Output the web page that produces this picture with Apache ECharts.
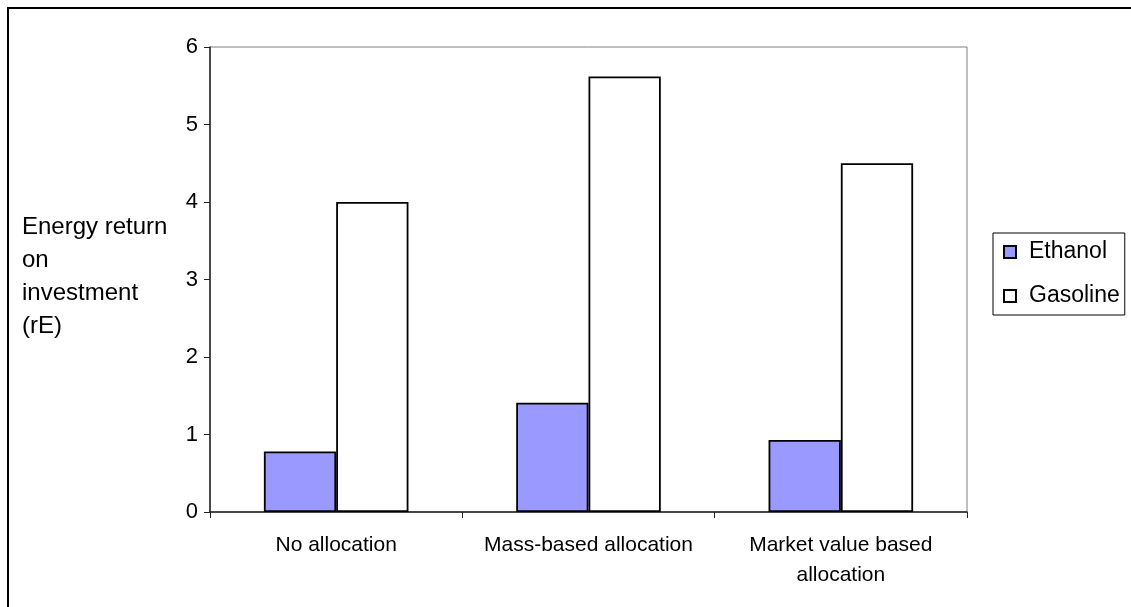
<!DOCTYPE html>
<html>
<head>
<meta charset="utf-8">
<script src="https://cdn.jsdelivr.net/npm/echarts@6/dist/echarts.min.js"></script>
<style>
html,body{margin:0;padding:0;background:#fff;}
#chart{width:1131px;height:607px;}
</style>
</head>
<body>
<div id="chart"></div>
<script>
var categories = ['No allocation', 'Mass-based allocation', 'Market value based\nallocation'];
var ethanol = [0.78, 1.41, 0.93];
var gasoline = [4.0, 5.62, 4.5];
var yTicks = [0, 1, 2, 3, 4, 5, 6];
var seriesNames = ['Ethanol', 'Gasoline'];
var yTitle = 'Energy return\non\ninvestment\n(rE)';

var FONT = '"Liberation Sans", Arial, sans-serif';
var chart = echarts.init(document.getElementById('chart'));
chart.setOption({
  animation: false,
  backgroundColor: '#fff',
  textStyle: { fontFamily: FONT, color: '#000' },
  grid: {
    left: 210, top: 47, right: 164, bottom: 95,
    show: true, borderColor: '#808080', borderWidth: 1, backgroundColor: 'transparent'
  },
  legend: {
    orient: 'vertical',
    left: 993, top: 233,
    padding: [7, 5, 7, 10],
    itemGap: 20,
    itemWidth: 12, itemHeight: 12,
    icon: 'rect',
    borderColor: '#000', borderWidth: 1,
    textStyle: { fontFamily: FONT, fontSize: 23, color: '#000', lineHeight: 24, padding: [0, 0, 0, 8] },
    data: seriesNames
  },
  graphic: [
    { type: 'rect', shape: { x: 8, y: 8, width: 1200, height: 700 },
      style: { fill: 'none', stroke: '#000', lineWidth: 2 }, silent: true },
    { type: 'text', left: 22, top: 211,
      style: { text: yTitle, font: '24px ' + FONT, fill: '#000', lineHeight: 33 } }
  ],
  xAxis: {
    type: 'category',
    data: categories,
    axisLine: { show: true, lineStyle: { color: '#222', width: 1.5 } },
    axisTick: { show: true, length: 6, inside: false, lineStyle: { color: '#222' } },
    axisLabel: { fontFamily: FONT, fontSize: 21, color: '#000', margin: 18, lineHeight: 30, interval: 0 },
    splitLine: { show: false }
  },
  yAxis: {
    type: 'value',
    min: 0, max: 6, interval: 1,
    axisLine: { show: true, lineStyle: { color: '#222', width: 1.5 } },
    axisTick: { show: true, length: 6, lineStyle: { color: '#222' } },
    axisLabel: { fontFamily: FONT, fontSize: 22, color: '#000', margin: 12,
      formatter: function (v) { return yTicks.indexOf(v) >= 0 ? String(v) : ''; } },
    splitLine: { show: false }
  },
  series: [
    { name: seriesNames[0], type: 'bar', data: ethanol, barGap: '0%', barCategoryGap: '42.7%',
      itemStyle: { color: '#9999FF', borderColor: '#000', borderWidth: 1.8 } },
    { name: seriesNames[1], type: 'bar', data: gasoline, barGap: '0%', barCategoryGap: '42.7%',
      itemStyle: { color: '#FFFFFF', borderColor: '#000', borderWidth: 1.8 } }
  ]
});
</script>
</body>
</html>
